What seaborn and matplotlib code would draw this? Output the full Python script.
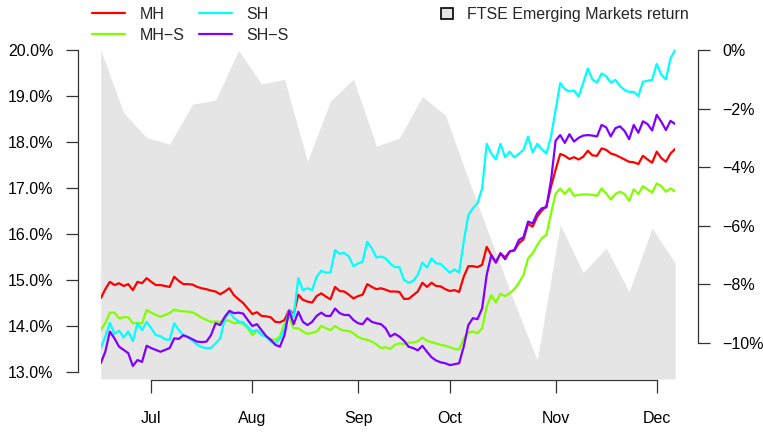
import numpy as np
import pandas as pd
import matplotlib
matplotlib.use('Agg')
import matplotlib.pyplot as plt
import seaborn as sns
from matplotlib.lines import Line2D
from matplotlib.patches import Patch

# trading-day index of each observation
days = list(range(126))

mh = [14.60, 14.80, 14.96, 14.89, 14.93, 14.87, 14.91, 14.78, 14.96, 14.93,
      15.04, 14.96, 14.89, 14.89, 14.87, 14.85, 15.07, 14.98, 14.91, 14.91,
      14.90, 14.85, 14.82, 14.80, 14.77, 14.75, 14.69, 14.75, 14.82, 14.67,
      14.58, 14.50, 14.38, 14.26, 14.30, 14.22, 14.21, 14.19, 14.09, 14.08,
      14.13, 14.35, 14.26, 14.68, 14.57, 14.53, 14.51, 14.65, 14.71, 14.64,
      14.58, 14.85, 14.76, 14.75, 14.68, 14.60, 14.65, 14.68, 14.91, 14.85,
      14.80, 14.82, 14.79, 14.75, 14.75, 14.74, 14.59, 14.59, 14.67, 14.75,
      14.94, 14.85, 14.94, 14.87, 14.86, 14.80, 14.76, 14.78, 14.74, 15.07,
      15.30, 15.30, 15.28, 15.33, 15.72, 15.54, 15.38, 15.58, 15.49, 15.62,
      15.64, 15.80, 15.88, 16.22, 16.16, 16.38, 16.51, 16.61, 17.03, 17.40,
      17.74, 17.70, 17.63, 17.67, 17.62, 17.68, 17.81, 17.71, 17.70, 17.86,
      17.83, 17.75, 17.72, 17.67, 17.62, 17.57, 17.56, 17.52, 17.70, 17.62,
      17.55, 17.79, 17.65, 17.57, 17.75, 17.85]

sh = [13.52, 13.77, 14.07, 13.83, 13.90, 13.75, 13.88, 13.67, 14.06, 13.91,
      14.09, 13.95, 13.80, 13.78, 13.71, 13.70, 14.06, 13.91, 13.80, 13.75,
      13.68, 13.59, 13.54, 13.52, 13.52, 13.62, 13.73, 14.15, 14.31, 14.17,
      14.10, 14.08, 13.98, 13.88, 13.91, 13.80, 13.77, 13.66, 13.63, 13.72,
      13.93, 14.35, 14.20, 15.04, 14.78, 14.82, 14.78, 15.07, 15.20, 15.16,
      15.16, 15.65, 15.57, 15.59, 15.51, 15.30, 15.36, 15.40, 15.83, 15.69,
      15.49, 15.51, 15.47, 15.36, 15.28, 15.28, 15.00, 14.94, 14.98, 15.11,
      15.38, 15.27, 15.47, 15.36, 15.35, 15.25, 15.16, 15.23, 15.16, 15.83,
      16.41, 16.56, 16.67, 16.99, 17.96, 17.75, 17.62, 17.96, 17.67, 17.79,
      17.67, 17.74, 17.83, 18.12, 17.77, 17.96, 17.84, 17.75, 18.12, 18.70,
      19.28, 19.15, 19.10, 19.12, 18.99, 19.28, 19.60, 19.36, 19.29, 19.49,
      19.43, 19.29, 19.35, 19.22, 19.13, 19.09, 19.09, 19.00, 19.31, 19.33,
      19.35, 19.70, 19.46, 19.36, 19.82, 20.00]

mh_s = [13.91, 14.06, 14.29, 14.29, 14.17, 14.19, 14.19, 14.06, 14.07, 14.06,
        14.35, 14.29, 14.24, 14.20, 14.24, 14.28, 14.36, 14.33, 14.32, 14.31,
        14.30, 14.24, 14.18, 14.13, 14.09, 14.10, 14.09, 14.13, 14.11, 14.06,
        14.07, 14.05, 13.95, 13.80, 13.91, 13.84, 13.78, 13.71, 13.70, 13.77,
        14.05, 14.18, 13.95, 13.95, 13.88, 13.83, 13.85, 13.88, 14.00, 13.95,
        13.91, 14.00, 13.93, 13.90, 13.89, 13.84, 13.76, 13.72, 13.70, 13.66,
        13.60, 13.52, 13.54, 13.50, 13.59, 13.62, 13.61, 13.64, 13.64, 13.67,
        13.75, 13.68, 13.65, 13.62, 13.59, 13.57, 13.54, 13.50, 13.49, 13.73,
        13.86, 13.88, 13.84, 13.95, 14.42, 14.67, 14.51, 14.70, 14.65, 14.71,
        14.80, 14.94, 15.11, 15.47, 15.58, 15.76, 15.91, 15.98, 16.45, 16.88,
        16.99, 16.87, 16.99, 16.83, 16.85, 16.86, 16.86, 16.85, 16.83, 16.99,
        16.88, 16.75, 16.87, 16.92, 16.87, 16.72, 16.97, 16.87, 17.04, 16.97,
        16.90, 17.10, 17.04, 16.92, 16.99, 16.93]

sh_s = [13.19, 13.44, 13.88, 13.73, 13.55, 13.48, 13.41, 13.13, 13.26, 13.22,
        13.57, 13.52, 13.48, 13.44, 13.48, 13.52, 13.73, 13.72, 13.80, 13.76,
        13.71, 13.66, 13.65, 13.66, 13.80, 14.06, 14.02, 14.20, 14.33, 14.28,
        14.29, 14.27, 14.13, 14.00, 14.04, 13.91, 13.78, 13.70, 13.59, 13.55,
        13.80, 14.33, 14.04, 14.31, 14.09, 14.02, 14.09, 14.22, 14.29, 14.22,
        14.22, 14.38, 14.28, 14.24, 14.24, 14.13, 14.06, 14.04, 14.17, 14.09,
        14.06, 14.04, 13.95, 13.77, 13.83, 13.77, 13.68, 13.55, 13.52, 13.47,
        13.57, 13.44, 13.32, 13.25, 13.21, 13.19, 13.15, 13.17, 13.19, 13.55,
        14.02, 14.17, 14.15, 14.38, 15.11, 15.54, 15.38, 15.58, 15.45, 15.62,
        15.65, 15.87, 15.93, 16.27, 16.23, 16.45, 16.56, 16.58, 17.17, 18.03,
        18.15, 17.98, 18.17, 18.01, 18.09, 18.14, 18.15, 18.14, 18.12, 18.37,
        18.32, 18.12, 18.30, 18.34, 18.24, 18.06, 18.37, 18.20, 18.45, 18.39,
        18.25, 18.59, 18.44, 18.26, 18.46, 18.39]

# weekly FTSE Emerging Markets return (%)
ftse_days = [0, 5, 10, 15, 20, 25, 30, 35, 40, 45, 50, 55, 60,
             65, 70, 75, 80, 85, 90, 95, 100, 105, 110, 115, 120, 125]
ftse = [0.0, -2.14, -2.99, -3.21, -1.85, -1.71, -0.02, -1.16, -1.0, -3.81,
        -1.74, -1.0, -3.28, -3.01, -1.59, -2.22, -4.4, -6.5, -8.6, -10.58,
        -5.97, -7.6, -6.76, -8.25, -6.08, -7.27]

month_ticks = [11, 33, 56, 76, 99, 121]
month_labels = ['Jul', 'Aug', 'Sep', 'Oct', 'Nov', 'Dec']
left_ticks = [13, 14, 15, 16, 17, 18, 19, 20]
right_ticks = [0, -2, -4, -6, -8, -10]

series_names = ['MH', 'MH\u2212S', 'SH', 'SH\u2212S']
colors = ['#FF0000', '#80FF00', '#00FFFF', '#8000FF']

df = pd.concat([
    pd.DataFrame({'day': days, 'value': vals, 'series': name})
    for name, vals in zip(series_names, [mh, mh_s, sh, sh_s])
])

sns.set_style('white')
plt.rcParams['font.family'] = ['Liberation Sans', 'DejaVu Sans']
plt.rcParams['font.size'] = 11.5

fig = plt.figure(figsize=(7.63, 4.32), dpi=100)
ax = fig.add_axes([0.13198, 0.12269, 0.75282, 0.76389])
ax2 = ax.twinx()

# grey area on the right axis, behind the lines
ax2.set_ylim(-11.229, 0.034)
ax2.fill_between(ftse_days, ftse, -11.229, color='#E5E5E5', linewidth=0)
ax.set_zorder(ax2.get_zorder() + 1)
ax.patch.set_visible(False)

sns.lineplot(data=df, x='day', y='value', hue='series', hue_order=series_names,
             palette=colors, linewidth=1.6, legend=False, ax=ax,
             estimator=None, sort=False)

ax.set_xlim(0, 125)
ax.set_ylim(12.848, 20.0217)
ax.set_xlabel('')
ax.set_ylabel('')

ax.set_yticks(left_ticks)
ax.set_yticklabels([f'{t:.1f}%' for t in left_ticks])
ax2.set_yticks(right_ticks)
ax2.set_yticklabels([('\u2212' if t < 0 else '') + f'{abs(t)}%' for t in right_ticks])
ax.set_xticks(month_ticks)
ax.set_xticklabels(month_labels)

for s in ['top', 'right']:
    ax.spines[s].set_visible(False)
for s in ['top', 'left', 'bottom']:
    ax2.spines[s].set_visible(False)

ax.spines['left'].set_position(('outward', 16.3))
ax.spines['left'].set_bounds(13, 20)
ax.spines['bottom'].set_position(('outward', 1))
ax.spines['bottom'].set_bounds(month_ticks[0], month_ticks[-1])
ax2.spines['right'].set_position(('outward', 16.3))
ax2.spines['right'].set_bounds(-10, 0)
for sp in [ax.spines['left'], ax.spines['bottom'], ax2.spines['right']]:
    sp.set_color('#333333')
    sp.set_linewidth(0.9)

ax.tick_params(axis='y', direction='out', length=8.6, width=0.9, color='#333333',
               pad=9, labelcolor='black', left=True)
ax.tick_params(axis='x', direction='out', length=9.2, width=0.9, color='#333333',
               pad=13, labelcolor='black', bottom=True)
ax2.tick_params(axis='y', direction='out', length=8.6, width=0.9, color='#333333',
                pad=9, labelcolor='black', right=True)

handles = [Line2D([], [], color=c, linewidth=1.6) for c in colors]
leg1 = fig.legend(handles, series_names, ncol=2, loc='upper left',
                  bbox_to_anchor=(92 / 763, 1 - 7 / 432), frameon=False,
                  borderpad=0, borderaxespad=0, handlelength=2.07,
                  handletextpad=0.9, columnspacing=0.9, labelspacing=0.35)
leg2 = fig.legend([Patch(facecolor='#E5E5E5', edgecolor='black', linewidth=1.2)],
                  ['FTSE Emerging Markets return'], loc='upper left',
                  bbox_to_anchor=(441 / 763, 1 - 7 / 432), frameon=False,
                  borderpad=0, borderaxespad=0, handlelength=0.75,
                  handleheight=0.75, handletextpad=0.85)

fig.savefig('out.png', dpi=100)
